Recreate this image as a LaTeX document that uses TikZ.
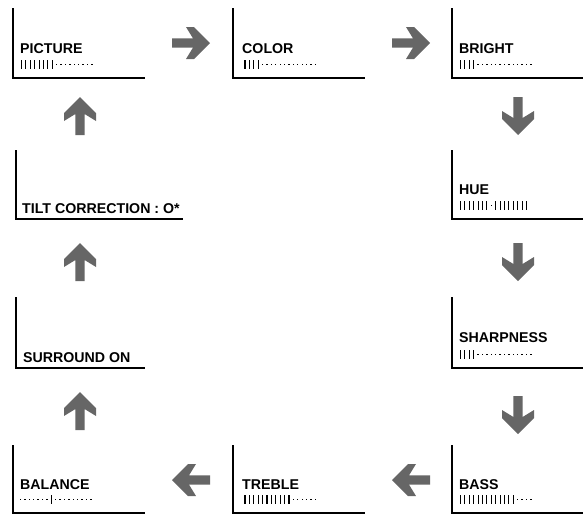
\documentclass[tikz,border=0pt]{standalone}
\usepackage{fontspec}
\setmainfont{Liberation Sans}
\definecolor{arrowgray}{RGB}{102,102,102}
\newcommand{\panelticks}[4]{\foreach \i in {#3,...,#4}{\draw[tickline] ({#1+\i*4.4},{#2-18}) -- ({#1+\i*4.4},{#2-9});}}
\newcommand{\paneldots}[4]{\foreach \i in {#3,...,#4}{\fill ({#1+\i*4.4-0.65},{#2-14.15}) rectangle ++(1.3,1.3);}}
\tikzset{
  panelline/.style={line width=2.2pt, line join=miter},
  tickline/.style={line width=1.1pt},
  paneltext/.style={font=\fontsize{14.2}{16}\selectfont\bfseries, inner sep=0pt, anchor=base west},
  pics/blockarrow/.style={code={
    \fill[arrowgray] (-19,-4.6) -- (2,-4.6) -- (-5,-16) -- (3,-16) -- (19,0) -- (3,16) -- (-5,16) -- (2,4.6) -- (-19,4.6) -- cycle;}}
}
\begin{document}
\begin{tikzpicture}[x=1pt,y=-1pt]
\useasboundingbox (0,0) rectangle (586,515);
% PICTURE
\draw[panelline] (13,8) -- (13,78) -- (145,78);
\node[paneltext] (picture) at (20,53) {PICTURE};
\panelticks{21.5}{78}{0}{7}\paneldots{21.5}{78}{8}{16}
% COLOR
\draw[panelline] (233,8) -- (233,78) -- (365,78);
\node[paneltext] (color) at (242,53) {COLOR};
\panelticks{245}{78}{0}{3}\paneldots{245}{78}{4}{16}
% BRIGHT
\draw[panelline] (452,8) -- (452,78) -- (583,78);
\node[paneltext] (bright) at (459,53) {BRIGHT};
\panelticks{460.5}{78}{0}{3}\paneldots{460.5}{78}{4}{16}
% HUE
\draw[panelline] (452,150) -- (452,219) -- (583,219);
\node[paneltext] (hue) at (459,194) {HUE};
\panelticks{460.5}{219}{0}{6}\paneldots{460.5}{219}{7}{7}\panelticks{460.5}{219}{8}{15}
% SHARPNESS
\draw[panelline] (452,297) -- (452,368) -- (583,368);
\node[paneltext] (sharpness) at (459,342) {SHARPNESS};
\panelticks{460.5}{368}{0}{3}\paneldots{460.5}{368}{4}{16}
% BASS
\draw[panelline] (452,445) -- (452,513) -- (583,513);
\node[paneltext] (bass) at (459,489) {BASS};
\panelticks{460.5}{513}{0}{12}\paneldots{460.5}{513}{13}{16}
% TREBLE
\draw[panelline] (233,445) -- (233,513) -- (365,513);
\node[paneltext] (treble) at (242,489) {TREBLE};
\panelticks{245}{513}{0}{10}\paneldots{245}{513}{11}{16}
% BALANCE
\draw[panelline] (13,445) -- (13,513) -- (145,513);
\node[paneltext] (balance) at (20,489) {BALANCE};
\paneldots{20.5}{513}{0}{6}\panelticks{20.5}{513}{7}{7}\paneldots{20.5}{513}{8}{16}
% SURROUND ON
\draw[panelline] (16,297) -- (16,368) -- (145,368);
\node[paneltext] (surround) at (23,362) {SURROUND ON};
% TILT CORRECTION
\draw[panelline] (16,150) -- (16,219) -- (183,219);
\node[paneltext] (tilt) at (22,213) {TILT CORRECTION : O*};
% arrows
\pic (ar1) at (191,43) {blockarrow};
\pic (ar2) at (411,43) {blockarrow};
\pic[rotate=-90] (ad1) at (518,116) {blockarrow};
\pic[rotate=-90] (ad2) at (518,262) {blockarrow};
\pic[rotate=-90] (ad3) at (518,415) {blockarrow};
\pic[rotate=180] (al1) at (411,480) {blockarrow};
\pic[rotate=180] (al2) at (191,480) {blockarrow};
\pic[rotate=90] (au1) at (80,411) {blockarrow};
\pic[rotate=90] (au2) at (80,262) {blockarrow};
\pic[rotate=90] (au3) at (80,116) {blockarrow};
\end{tikzpicture}
\end{document}
